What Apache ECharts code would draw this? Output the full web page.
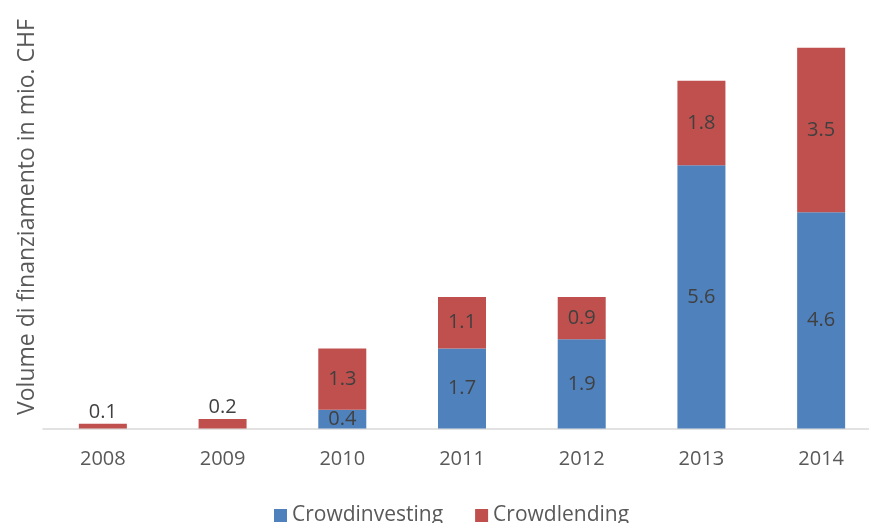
<!DOCTYPE html>
<html>
<head>
<meta charset="utf-8">
<script src="https://cdn.jsdelivr.net/npm/echarts@6/dist/echarts.min.js"></script>
<style>html,body{margin:0;padding:0;background:#fff;}#c{width:869px;height:523px;}</style>
</head>
<body>
<div id="c"></div>
<script>
const categories = ['2008','2009','2010','2011','2012','2013','2014'];
const crowdinvesting = [0, 0, 0.4, 1.7, 1.9, 5.6, 4.6];
const crowdlending = [0.1, 0.2, 1.3, 1.1, 0.9, 1.8, 3.5];
const seriesNames = ['Crowdinvesting', 'Crowdlending'];
const yTitle = 'Volume di finanziamento in mio. CHF';

const FONT = 'Open Sans';
const chart = echarts.init(document.getElementById('c'), null, {renderer: 'canvas'});

const labelStyle = {show: true, position: 'inside', color: '#404040', fontSize: 20, fontFamily: FONT,
  formatter: p => p.value === 0 ? '' : p.value.toFixed(1)};

chart.setOption({
  animation: false,
  backgroundColor: '#fff',
  grid: {left: 43, width: 838, top: 5.5, bottom: 94.5, outerBoundsMode: 'none', containLabel: false},
  legend: {
    data: seriesNames, bottom: -8, left: 269, itemWidth: 13, itemHeight: 13, itemGap: 32,
    icon: 'rect',
    textStyle: {color: '#595959', fontSize: 21, fontFamily: FONT}
  },
  xAxis: {
    type: 'category', data: categories,
    axisLine: {lineStyle: {color: '#d9d9d9', width: 1.5}},
    axisTick: {show: false},
    axisLabel: {color: '#595959', fontSize: 20, fontFamily: FONT, margin: 21}
  },
  yAxis: {
    type: 'value', min: 0, max: 9,
    splitLine: {show: false}, axisLabel: {show: false}, axisLine: {show: false}, axisTick: {show: false},
    name: yTitle, nameLocation: 'middle', nameGap: 4,
    nameTextStyle: {color: '#595959', fontSize: 23, fontFamily: FONT}
  },
  series: [
    {name: seriesNames[0], type: 'bar', stack: 'a', barWidth: 48,
     itemStyle: {color: '#4F81BD'},
     label: labelStyle,
     data: crowdinvesting},
    {name: seriesNames[1], type: 'bar', stack: 'a', barWidth: 48,
     itemStyle: {color: '#C0504D'},
     label: labelStyle,
     data: crowdlending.map((v, i) => v < 0.3 ? {value: v, label: {position: 'top', distance: 2}} : v)}
  ]
});
</script>
</body>
</html>
